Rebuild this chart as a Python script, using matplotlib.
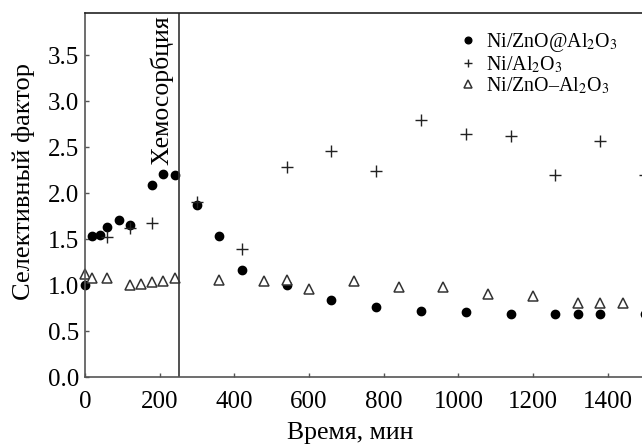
import numpy as np
import matplotlib
matplotlib.use("Agg")
from matplotlib import pyplot as plt

plt.rcParams['font.family'] = ['Liberation Serif', 'DejaVu Serif']
plt.rcParams['mathtext.fontset'] = 'stix'

# Ni/ZnO@Al2O3
t_core = [0, 20, 40, 60, 90, 120, 180, 210, 240, 300, 360, 420, 540, 660,
          780, 900, 1020, 1140, 1260, 1320, 1380, 1500]
s_core = [1.00, 1.53, 1.54, 1.63, 1.71, 1.65, 2.09, 2.21, 2.20, 1.87, 1.53,
          1.16, 1.00, 0.84, 0.76, 0.72, 0.71, 0.68, 0.68, 0.68, 0.68, 0.69]

# Ni/Al2O3
t_al = [60, 120, 180, 300, 420, 540, 660, 780, 900, 1020, 1140, 1260, 1380, 1500]
s_al = [1.52, 1.62, 1.68, 1.90, 1.39, 2.28, 2.46, 2.24, 2.80, 2.64, 2.62,
        2.20, 2.57, 2.20]

# Ni/ZnO-Al2O3
t_mix = [0, 20, 60, 120, 150, 180, 210, 240, 360, 480, 540, 600, 720, 840,
         960, 1080, 1200, 1320, 1380, 1440]
s_mix = [1.12, 1.08, 1.08, 1.00, 1.01, 1.03, 1.04, 1.08, 1.05, 1.04, 1.05,
         0.96, 1.04, 0.975, 0.975, 0.90, 0.88, 0.81, 0.81, 0.80]

labels = [r'Ni/ZnO@Al$_2$O$_3$', r'Ni/Al$_2$O$_3$', r'Ni/ZnO–Al$_2$O$_3$']
xticks = [0, 200, 400, 600, 800, 1000, 1200, 1400]
yticks = [0.0, 0.5, 1.0, 1.5, 2.0, 2.5, 3.0, 3.5]
t_chem = 253

fig = plt.figure(figsize=(6.42, 4.45), dpi=100)
ax = fig.add_axes([0.1324, 0.1528, 0.884, 0.818])

ax.plot(t_core, s_core, 'o', color='black', ms=6, label=labels[0], clip_on=False)
ax.plot(t_al, s_al, '+', color='#222222', ms=8, mew=1.0, label=labels[1])
ax.plot(t_mix, s_mix, '^', mfc='white', mec='#333333', ms=7.5, mew=1.1,
        label=labels[2], clip_on=False)

ax.axvline(t_chem, color='#333333', lw=1.2)
ax.text(t_chem - 47, 3.93, 'Хемосорбция', rotation=90, ha='center', va='top',
        fontsize=18.5)

ax.set_xlim(0, 1520)
ax.set_ylim(0, 3.96)
ax.set_xticks(xticks)
ax.set_yticks(yticks)
ax.set_yticklabels(['%.1f' % v for v in yticks])
ax.tick_params(direction='in', length=3, width=1, labelsize=18, colors='#555555',
               labelcolor='black')
ax.tick_params(axis='x', pad=10)
ax.tick_params(axis='y', pad=4)
for sp in ax.spines.values():
    sp.set_color('#555555')
    sp.set_linewidth(1.2)
ax.spines['top'].set_color('#222222')

ax.set_xlabel('Время, мин', fontsize=18.5)
ax.xaxis.set_label_coords(0.467, -0.124)
ax.set_ylabel('Селективный фактор', fontsize=19)
ax.yaxis.set_label_coords(-0.088, 0.536)

ax.legend(loc='upper left', bbox_to_anchor=(449 / 642, 1 - 21 / 445),
          bbox_transform=fig.transFigure, frameon=False, fontsize=14.4,
          handlelength=0.9, handletextpad=0.45, labelspacing=0.02,
          borderpad=0, markerscale=0.8)

fig.savefig('out.png', dpi=100)
